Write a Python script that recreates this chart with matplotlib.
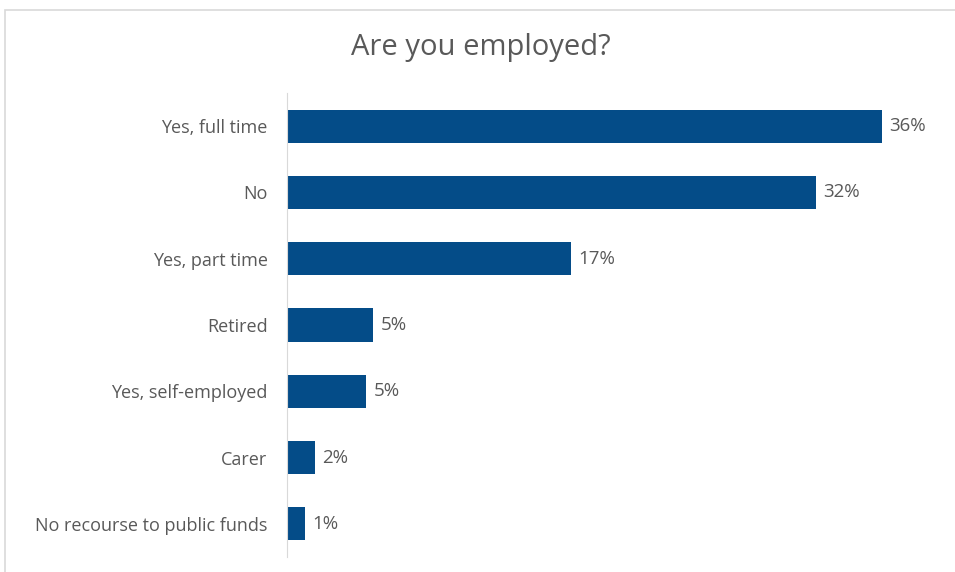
import matplotlib.pyplot as plt
from matplotlib.patches import Rectangle

# survey answers, top to bottom
categories = ['Yes, full time', 'No', 'Yes, part time', 'Retired',
              'Yes, self-employed', 'Carer', 'No recourse to public funds']
shares = [36.0, 32.0, 17.2, 5.2, 4.8, 1.7, 1.1]

bar_color = '#044C88'
text_color = '#595959'

plt.rcParams['font.family'] = ['Open Sans', 'DejaVu Sans']

W, H = 955, 572
fig = plt.figure(figsize=(W / 100, H / 100), dpi=100)

# light chart-area frame (runs off the right and bottom edges)
fig.patches.append(Rectangle((5 / W, -0.1), 1.2, 1.1 - 10 / H, transform=fig.transFigure,
                             fill=False, edgecolor='#D9D9D9', linewidth=1.2))

ax_left, ax_right = 287, 948
ax_top, ax_bottom = 93, 557
ax = fig.add_axes([ax_left / W, 1 - ax_bottom / H,
                   (ax_right - ax_left) / W, (ax_bottom - ax_top) / H])

y = list(range(len(categories)))
ax.barh(y, shares, height=0.5, color=bar_color)
ax.set_ylim(len(categories) - 0.5, -0.5)
ax.set_xlim(0, 40)

for yi, v in zip(y, shares):
    ax.text(v + 0.45, yi, f'{v:.0f}%', va='center', ha='left',
            fontsize=13.5, color=text_color)

ax.set_yticks(y)
ax.set_yticklabels(categories, fontsize=13, color=text_color)
ax.tick_params(axis='y', length=0, pad=14)
ax.set_xticks([])

for side in ['top', 'right', 'bottom']:
    ax.spines[side].set_visible(False)
ax.spines['left'].set_color('#D9D9D9')

fig.text(481 / W, 1 - 48 / H, 'Are you employed?', ha='center', va='center',
         fontsize=21, color=text_color)

fig.savefig('out.png', dpi=100)
